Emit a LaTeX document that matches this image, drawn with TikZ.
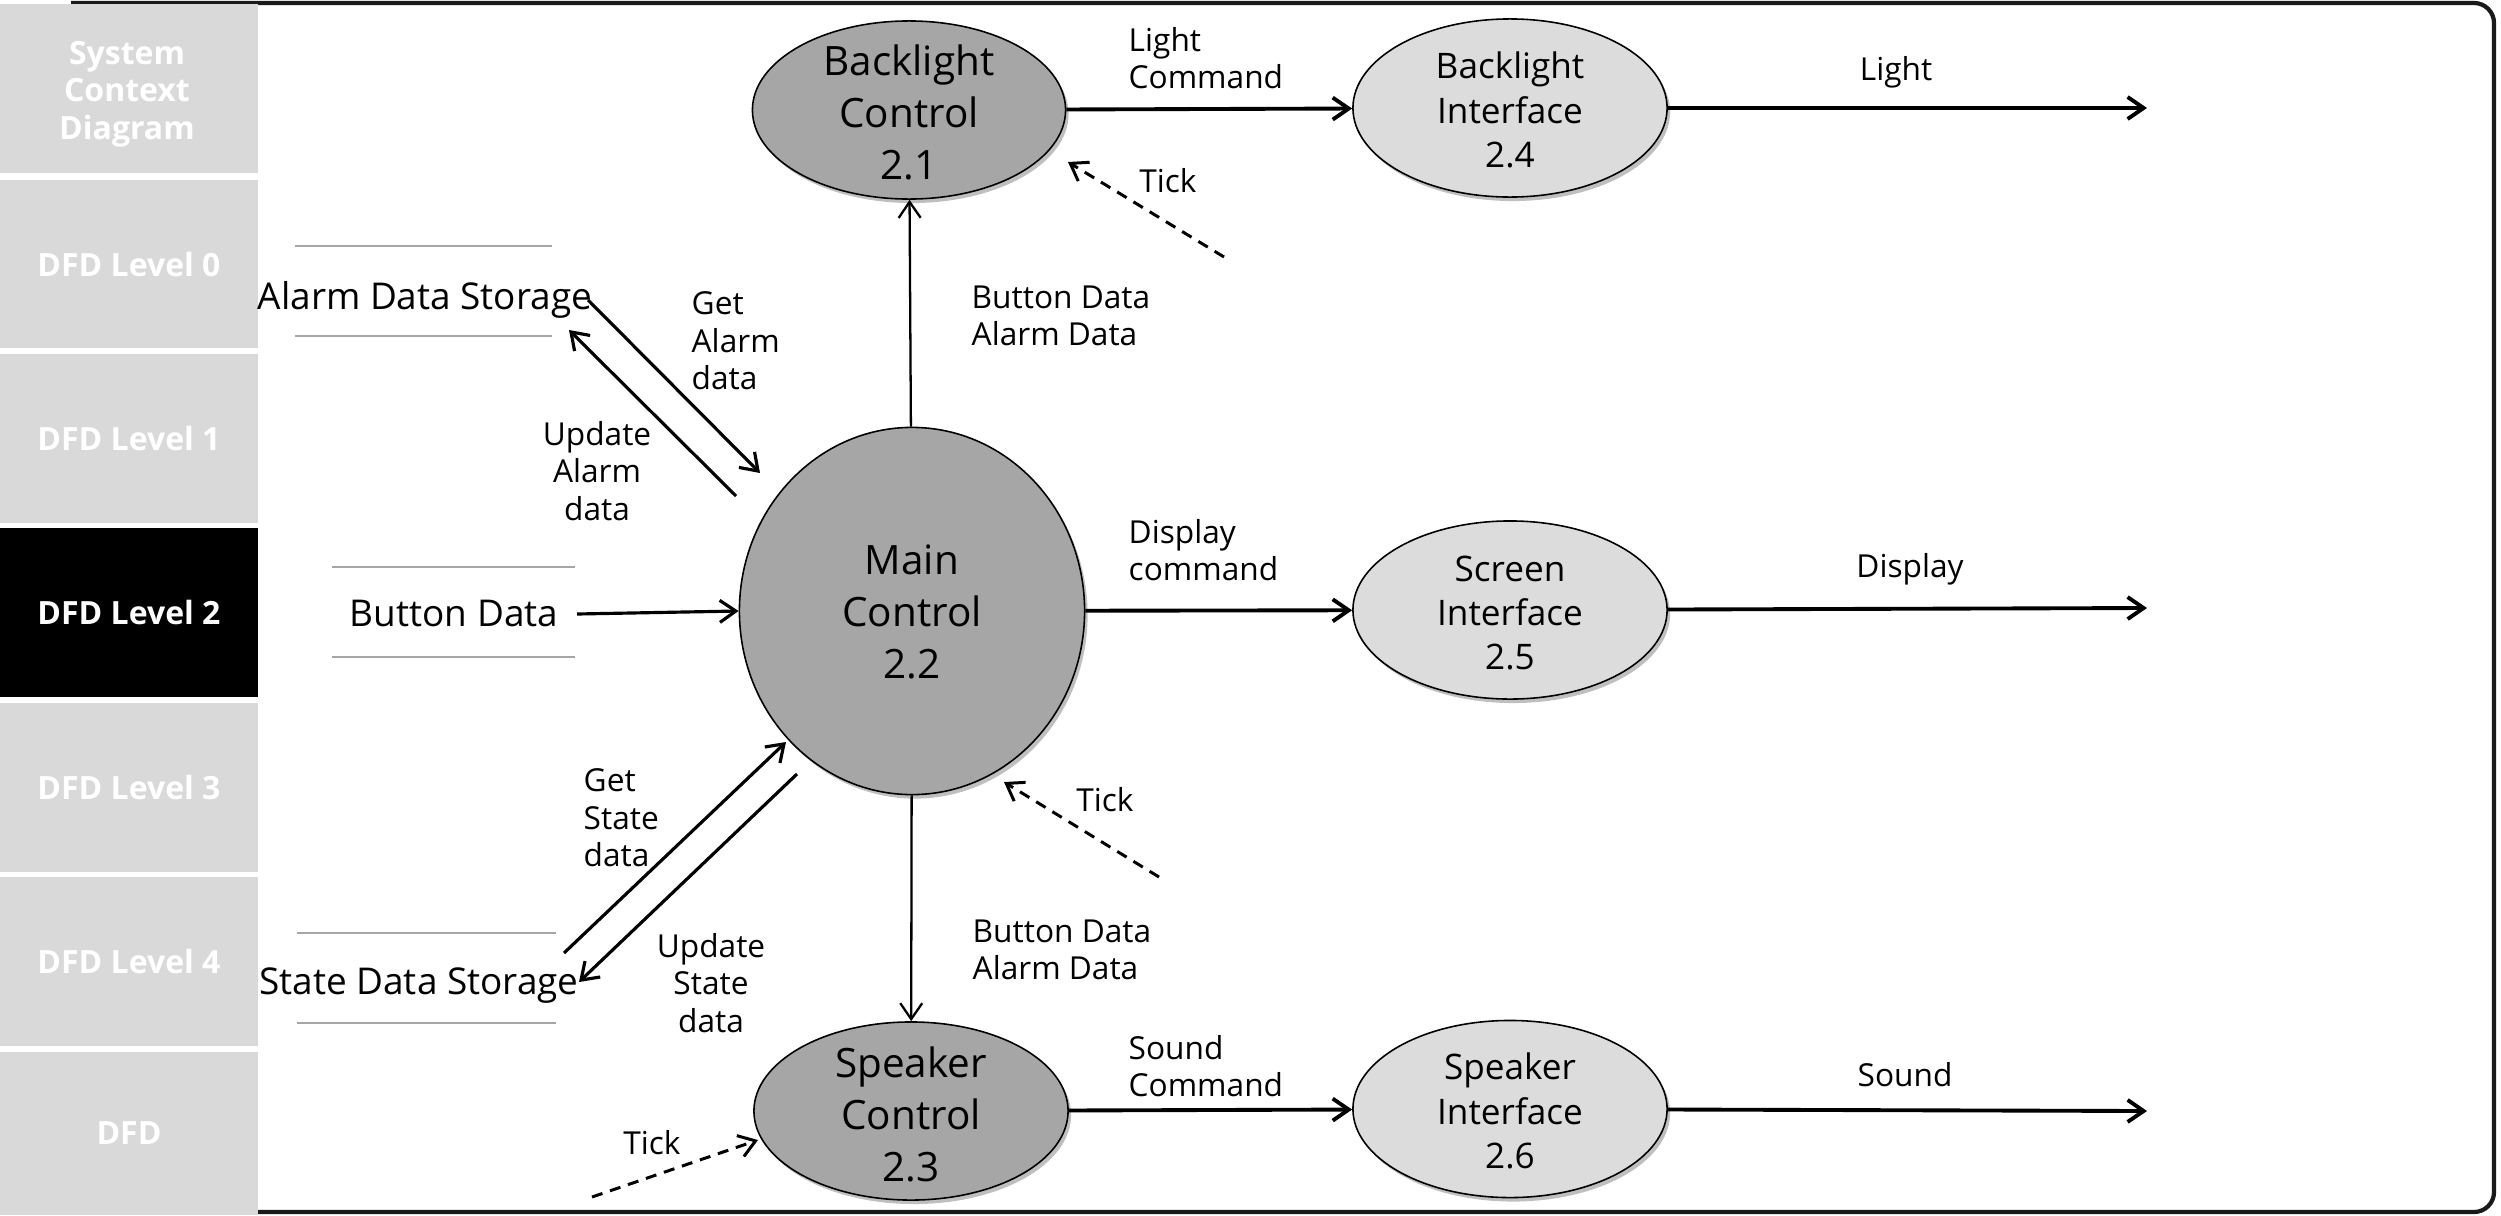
\documentclass[tikz,border=0pt]{standalone}
\usepackage{fontspec}
\setmainfont{Open Sans}
\usetikzlibrary{arrows.meta,shapes.geometric,shadows}
\definecolor{darkfill}{HTML}{A6A6A6}
\definecolor{lightfill}{HTML}{DCDCDC}
\definecolor{sidegray}{HTML}{D9D9D9}
\definecolor{storeline}{HTML}{A6A6A6}
\definecolor{framecol}{HTML}{1A1A1A}
\tikzset{
  tipbarb/.tip={Straight Barb[length=0.16cm,width=0.22cm]},
  procbase/.style={ellipse, draw=black, line width=0.45pt, inner sep=0pt,
    drop shadow={shadow xshift=0.03cm, shadow yshift=-0.04cm, opacity=0.25, fill=black}},
  darkproc/.style={procbase, fill=darkfill},
  lightproc/.style={procbase, fill=lightfill},
  bigtext/.style={inner sep=0pt, align=center, font=\fontsize{11.5}{14.8}\selectfont},
  midtext/.style={inner sep=0pt, align=center, font=\fontsize{10}{12.6}\selectfont},
  storetext/.style={inner sep=0pt, font=\fontsize{10.5}{13}\selectfont},
  lbl/.style={inner sep=0pt, align=left, font=\fontsize{9}{10.7}\selectfont},
  lblc/.style={lbl, align=center},
  sidebox/.style={rectangle, fill=sidegray, inner sep=0pt, minimum width=2.58cm,
    text=white, align=center, font=\bfseries\fontsize{9.1}{10.7}\selectfont},
  sidetext/.style={inner sep=0pt, text=white, align=center, font=\bfseries\fontsize{9.1}{10.7}\selectfont},
  storeln/.style={draw=storeline, line width=0.8pt},
  flow/.style={line width=1.1pt, -tipbarb},
  midflow/.style={line width=0.9pt, -tipbarb},
  thinflow/.style={line width=0.65pt, -tipbarb},
  tickflow/.style={line width=0.85pt, dash pattern=on 0.11cm off 0.08cm, -tipbarb},
}
\begin{document}
\begin{tikzpicture}[x=0.01cm, y=-0.01cm]
\useasboundingbox (0,0) rectangle (2501,1215);
\fill[white] (0,0) rectangle (2501,1215);

% frame (left side hidden behind the sidebar)
\draw[framecol, line width=1.2pt, rounded corners=0.2cm] (71,3) -- (2494,3) -- (2494,1212) -- (230,1212);

% sidebar
\node[sidebox, minimum height=1.69cm] (s1) at (129,88.5) {};
\node[sidetext] (s1text) at (127,94) {System\\Context\\Diagram};
\node[sidebox, minimum height=1.68cm] (s2) at (129,264) {DFD Level 0};
\node[sidebox, minimum height=1.69cm] (s3) at (129,438.5) {DFD Level 1};
\node[sidebox, minimum height=1.69cm, fill=black] (s4) at (129,612.5) {DFD Level 2};
\node[sidebox, minimum height=1.69cm] (s5) at (129,787.5) {DFD Level 3};
\node[sidebox, minimum height=1.69cm] (s6) at (129,961.5) {DFD Level 4};
\node[sidebox, minimum height=1.63cm] (s7) at (129,1133.5) {DFD};

% processes
\node[darkproc, minimum width=3.13cm, minimum height=1.78cm] (bc) at (909,110) {};
\node[bigtext] (bctext) at (909,112) {Backlight\\Control\\2.1};
\node[lightproc, minimum width=3.14cm, minimum height=1.78cm] (bi) at (1510,108) {};
\node[midtext] (bitext) at (1510,110) {Backlight\\Interface\\2.4};
\node[darkproc, minimum width=3.45cm, minimum height=3.67cm] (main) at (912,611) {};
\node[bigtext] (maintext) at (912,612) {Main\\Control\\2.2};
\node[lightproc, minimum width=3.14cm, minimum height=1.78cm] (si) at (1510,610) {};
\node[midtext] (sitext) at (1510,613) {Screen\\Interface\\2.5};
\node[darkproc, minimum width=3.14cm, minimum height=1.78cm] (sc) at (911,1111) {};
\node[bigtext] (sctext) at (911,1114) {Speaker\\Control\\2.3};
\node[lightproc, minimum width=3.14cm, minimum height=1.77cm] (spi) at (1510,1109) {};
\node[midtext] (spitext) at (1510,1111) {Speaker\\Interface\\2.6};

% stores
\node[storetext] (ads) at (425,300) {Alarm Data Storage};
\draw[storeln] (295,246) -- (552,246);
\draw[storeln] (295,336) -- (552,336);
\node[storetext] (bd) at (454,613) {Button Data};
\draw[storeln] (332,567) -- (575,567);
\draw[storeln] (332,657) -- (575,657);
\node[storetext] (sds) at (419,986) {State Data Storage};
\draw[storeln] (297,933) -- (556,933);
\draw[storeln] (297,1023) -- (556,1023);

% free ends
\coordinate (lightout) at (2147,108);
\coordinate (dispout) at (2147,608);
\coordinate (soundout) at (2147,1111);
\coordinate (t1a) at (1224,257);
\coordinate (t1b) at (1068,162);
\coordinate (t2a) at (1159,877);
\coordinate (t2b) at (1004,782);
\coordinate (t3a) at (592,1197);
\coordinate (t3b) at (758,1140);
\coordinate (ga1) at (588,300);
\coordinate (ga2) at (760,473);
\coordinate (ua1) at (736,496);
\coordinate (ua2) at (569,330);
\coordinate (bd1) at (577,614);
\coordinate (gs1) at (564,953);
\coordinate (gs2) at (786,742);
\coordinate (us1) at (797,774);
\coordinate (us2) at (579,982);

% connectors
\draw[flow] (bc) -- (bi);
\draw[flow] (bi) -- (lightout);
\draw[thinflow] (main) -- (bc);
\draw[flow] (main) -- (si);
\draw[flow] (si) -- (dispout);
\draw[thinflow] (main) -- (sc);
\draw[flow] (sc) -- (spi);
\draw[flow] (spi) -- (soundout);
\draw[tickflow] (t1a) -- (t1b);
\draw[tickflow] (t2a) -- (t2b);
\draw[tickflow] (t3a) -- (t3b);
\draw[midflow] (ga1) -- (ga2);
\draw[midflow] (ua1) -- (ua2);
\draw[midflow] (bd1) -- (main.west);
\draw[midflow] (gs1) -- (gs2);
\draw[midflow] (us1) -- (us2);

% labels
\node[lbl, anchor=west] (l1) at (1128,58) {Light\\Command};
\node[lbl] (l2) at (1896,72) {Light};
\node[lbl] (l3) at (1168,181) {Tick};
\node[lbl, anchor=west] (l4) at (971,316) {Button Data\\Alarm Data};
\node[lbl, anchor=west] (l5) at (1128,550) {Display\\command};
\node[lbl] (l6) at (1910,569) {Display};
\node[lbl] (l7) at (1105,800) {Tick};
\node[lbl, anchor=west] (l8) at (972,950) {Button Data\\Alarm Data};
\node[lbl, anchor=west] (l9) at (1128,1066) {Sound\\Command};
\node[lbl] (l10) at (1905,1075) {Sound};
\node[lbl] (l11) at (652,1143) {Tick};
\node[lbl, anchor=west] (l12) at (691,341) {Get\\Alarm\\data};
\node[lblc] (l13) at (597,471) {Update\\Alarm\\data};
\node[lbl, anchor=west] (l14) at (583,818) {Get\\State\\data};
\node[lblc] (l15) at (711,983) {Update\\State\\data};
\end{tikzpicture}
\end{document}
